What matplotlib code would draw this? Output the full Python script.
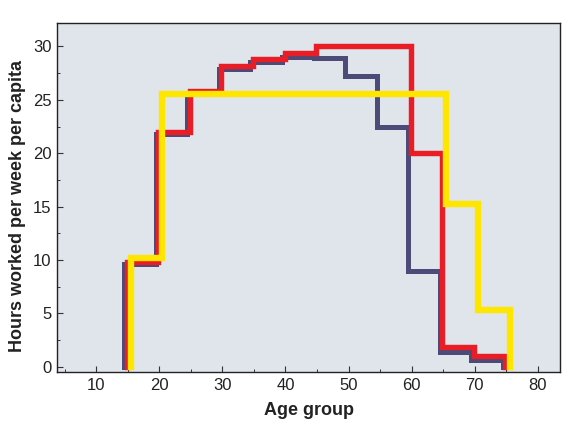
import numpy as np
import matplotlib
matplotlib.use("Agg")
import matplotlib.pyplot as plt
from matplotlib.ticker import MultipleLocator

# Age-group lower edges (5-year groups 15-19 ... 70-74) and closing edge
age_edges = [15, 20, 25, 30, 35, 40, 45, 50, 55, 60, 65, 70, 75]

# Hours worked per week per capita by age group
blue_vals = [9.6, 21.8, 25.6, 27.9, 28.5, 29.0, 28.9, 27.2, 22.5, 9.0, 1.4, 0.6]
red_vals = [9.8, 22.0, 25.8, 28.2, 28.8, 29.4, 30.0, 30.0, 30.0, 20.0, 1.8, 1.0]
yellow_vals = [10.2, 25.5, 25.5, 25.5, 25.5, 25.5, 25.5, 25.5, 25.5, 25.5, 15.2, 5.3]

x_ticks = [10, 20, 30, 40, 50, 60, 70, 80]
y_ticks = [0, 5, 10, 15, 20, 25, 30]

plt.rcParams['font.family'] = ['Liberation Sans', 'DejaVu Sans']

fig = plt.figure(figsize=(5.8, 4.28), dpi=100)
ax = fig.add_axes([0.0983, 0.1308, 0.8672, 0.8155])
ax.set_facecolor('#e0e4eb')


def step_xy(edges, vals, shift):
    e = np.asarray(edges, dtype=float) + shift
    x = np.repeat(e, 2)
    y = np.concatenate([[0], np.repeat(vals, 2), [0]])
    return x, y


series = [
    (blue_vals, -0.55, '#4b4a78', 3.6),
    (red_vals, -0.15, '#e81d25', 3.9),
    (yellow_vals, 0.5, '#ffe600', 4.6),
]
for vals, shift, col, lw in series:
    x, y = step_xy(age_edges, vals, shift)
    ax.plot(x, y, color=col, lw=lw, solid_joinstyle='miter',
            solid_capstyle='projecting')

ax.set_xlim(3.8, 83.5)
ax.set_ylim(-0.5, 32.2)
ax.set_xticks(x_ticks)
ax.set_yticks(y_ticks)
ax.xaxis.set_minor_locator(MultipleLocator(5))
ax.yaxis.set_minor_locator(MultipleLocator(2.5))
ax.tick_params(which='major', direction='in', length=4, width=0.8,
               labelsize=12, labelcolor='#222222', color='#333333', pad=4)
ax.tick_params(which='minor', direction='in', length=2.5, width=0.7, color='#333333')
for s in ax.spines.values():
    s.set_linewidth(1.0)
    s.set_color('#222222')

ax.set_xlabel('Age group', fontsize=13, fontweight='bold', color='#222222')
ax.set_ylabel('Hours worked per week per capita', fontsize=13, fontweight='bold',
              color='#222222')
ax.yaxis.set_label_coords(-0.062, 0.475)
ax.xaxis.set_label_coords(0.5, -0.085)

fig.savefig('out.png', dpi=100)
